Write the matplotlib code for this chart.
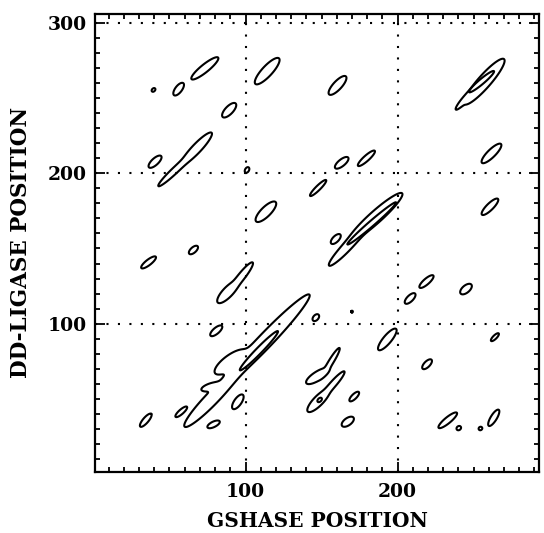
import numpy as np
import matplotlib
matplotlib.use("Agg")
import matplotlib.pyplot as plt

# contour islands: tip to tip (x0, y0, x1, y1) and half width
upper_left = [
    (64.5, 262.7, 82, 277, 2.6),
    (38.5, 254.5, 40.5, 256.5, 1.0),
    (53, 252, 59, 260, 2.2),
    (85, 237.5, 93.5, 246.5, 2.6),
    (36.5, 204, 44.5, 211.5, 2.2),
    (42.7, 191.5, 64, 212, 2.0),
    (58, 206, 77.7, 227, 3.0),
]
upper_mid = [
    (106.5, 259.5, 122, 276.5, 3.4),
    (155, 252.5, 166, 264.5, 2.8),
    (100, 200.5, 102, 204, 1.3),
    (159, 203.5, 167.5, 210.5, 2.2),
    (174, 205, 185, 215, 1.8),
]
upper_right = [
    (238.5, 242.7, 250, 256, 1.6),
    (244, 246, 270, 276, 4.2),
    (255.5, 207, 268, 219.5, 2.6),
]
middle_left = [
    (31.5, 137, 41, 144.5, 1.8),
    (63, 146.5, 68.5, 151.5, 1.8),
    (81.8, 114, 95, 128, 3.3),
    (90, 122, 104.7, 140.7, 2.3),
]
center = [
    (107, 168, 119.8, 180.9, 3.2),
    (142.5, 185, 153, 195.5, 1.5),
    (155, 138.7, 178, 163, 2.8),
    (168, 155, 203, 186.7, 4.0),
    (156.4, 153.3, 162.3, 159.3, 2.0),
    (144.5, 102, 148, 106, 1.7),
    (169.6, 107.6, 170.4, 108.4, 0.6),
]
middle_right = [
    (255.5, 172.5, 266, 183, 2.2),
    (205, 113.5, 211.5, 120, 2.0),
    (214.5, 124, 223.5, 132, 1.9),
    (241.5, 120, 248.5, 126, 2.4),
]
lower_left = [
    (60, 31.5, 95, 68, 4.2),
    (84, 58, 142, 119.3, 4.8),
    (80, 67, 100, 82, 4.5),
    (71, 56, 84, 60, 2.4),
    (77, 92, 84.5, 98.5, 2.0),
    (91.7, 43.3, 98.2, 52.7, 2.4),
    (54, 38, 61.5, 44.7, 1.5),
    (75, 31, 83, 35, 1.8),
    (30.8, 31.5, 38, 40, 1.8),
]
lower_mid = [
    (187.5, 82.5, 199, 96.5, 2.7),
    (140, 60.4, 155, 70, 3.0),
    (151, 66, 161.8, 83.8, 1.6),
    (141, 41.5, 155, 56, 3.2),
    (150, 51, 165, 68.2, 2.0),
    (168.5, 48.5, 174.5, 54.5, 1.6),
    (163.5, 32, 171, 37.5, 2.4),
]
lower_right = [
    (261.5, 88.5, 266.5, 93.5, 1.2),
    (216.5, 70, 222.3, 76, 1.9),
    (227, 30.7, 239, 40.7, 2.0),
    (239, 29.5, 241.5, 31.5, 1.3),
    (253.5, 29.5, 255.5, 31, 1.1),
    (260, 32, 266.5, 42.7, 2.0),
]
# second contour level
inner = [
    (247, 254, 263.4, 268, 1.7),
    (167, 152.7, 199, 180.7, 1.8),
    (96.3, 69, 121.3, 95, 2.0),
    (147.5, 48, 150, 50.5, 1.1),
]

xlim = (1, 293)
ylim = (1.5, 306)

xs = np.arange(0, 296, 0.2)
ys = np.arange(0, 308, 0.2)
X, Y = np.meshgrid(xs, ys)


def island_field(blobs):
    f = np.zeros_like(X)
    for x0, y0, x1, y1, b in blobs:
        cx, cy = (x0 + x1) / 2, (y0 + y1) / 2
        a = max(np.hypot(x1 - x0, y1 - y0) / 2, b)
        ang = np.arctan2(y1 - y0, x1 - x0)
        u = (X - cx) * np.cos(ang) + (Y - cy) * np.sin(ang)
        v = -(X - cx) * np.sin(ang) + (Y - cy) * np.cos(ang)
        r2 = (u / a) ** 2 + (v / b) ** 2
        f += np.exp(np.clip(2 * (1 - r2), -50, 5))
    return f


outer = (upper_left + upper_mid + upper_right + middle_left + center
         + middle_right + lower_left + lower_mid + lower_right)
F1 = island_field(outer)
F2 = island_field(inner)

plt.rcParams['font.family'] = 'DejaVu Serif'
plt.rcParams['font.weight'] = 'bold'

fig = plt.figure(figsize=(5.44, 5.33), dpi=100)
ax = fig.add_axes([0.1746, 0.115, 0.8162, 0.8587])

ax.contour(X, Y, F1, levels=[1.0], colors='k', linewidths=1.5)
ax.contour(X, Y, F2, levels=[1.0], colors='k', linewidths=1.5)

ax.set_xlim(*xlim)
ax.set_ylim(*ylim)
ax.set_xticks([100, 200])
ax.set_yticks([100, 200, 300])
ax.set_xticks(np.arange(10, 293, 10), minor=True)
ax.set_yticks(np.arange(10, 306, 10), minor=True)
ax.tick_params(which='both', direction='in', top=True, right=True, width=1.3)
ax.tick_params(which='major', length=7)
ax.tick_params(which='minor', length=3.5)
ax.tick_params(axis='x', which='major', pad=8, labelsize=13.5)
ax.tick_params(axis='y', which='major', pad=6, labelsize=13.5)
for s in ax.spines.values():
    s.set_linewidth(1.6)

ax.grid(True, which='major', color='k', linestyle=(0, (1, 4.5)), linewidth=1.5)

ax.set_xlabel("GSHASE POSITION", fontsize=14.5, fontweight='bold', labelpad=7)
ax.set_ylabel("DD-LIGASE POSITION", fontsize=15.5, fontweight='bold', labelpad=11)

fig.savefig("out.png", dpi=100)
